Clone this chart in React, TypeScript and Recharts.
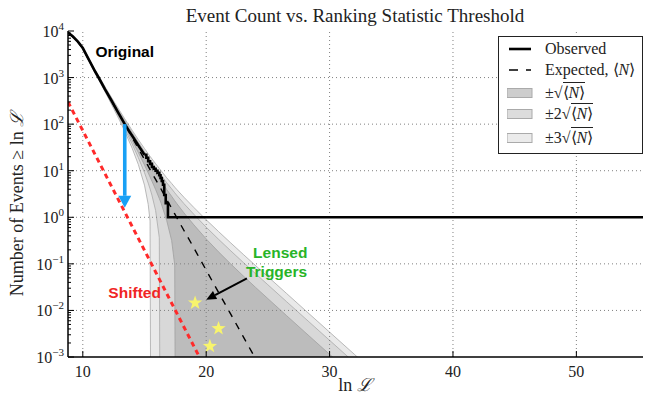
import React from "react";
import {
  ComposedChart,
  Line,
  Area,
  Scatter,
  XAxis,
  YAxis,
  ReferenceLine,
  ReferenceDot,
} from "recharts";

// axis ticks
const X_TICKS = [10, 20, 30, 40, 50];
const Y_DECADES = [1e-3, 1e-2, 1e-1, 1, 1e1, 1e2, 1e3, 1e4];
const Y_EXPONENTS = ["\u22123", "\u22122", "\u22121", "0", "1", "2", "3", "4"];
const Y_MINOR_STEPS = [2, 3, 4, 5, 6, 7, 8, 9];

// observed count >= ln L (smooth high-count part, then integer steps)
const OBS_SMOOTH_X = [8.8, 9.2, 9.6, 10.0, 10.5, 11.0, 11.3, 11.8, 12.3, 12.8, 13.4, 13.8, 14.2, 14.6, 15.0];
const OBS_SMOOTH_N = [9300, 7600, 5900, 4300, 2400, 1350, 980, 560, 330, 190, 100, 68, 47, 32, 22];
const OBS_STEP_X = [15.0, 15.15, 15.3, 15.45, 15.6, 15.75, 15.9, 16.05, 16.2, 16.3, 16.4, 16.5, 16.6, 16.72, 16.9, 55.4];
const OBS_STEP_N = [22, 19, 16, 14, 12, 11, 10, 9, 8, 7, 6, 5, 3, 2, 1, 1];

// expected <N>
const EXP_X = [8.8, 9.2, 9.6, 10.0, 10.5, 11.0, 11.5, 12.0, 12.5, 13.0, 13.4, 14.0, 14.5, 15.0, 15.3, 15.45, 15.6, 15.9, 16.2, 16.35, 16.8, 17.2, 17.45, 17.6, 18.2, 19, 20, 21, 22, 23, 24, 25, 26.5, 28, 30, 32, 34];
const EXP_N = [9200, 7500, 5850, 4250, 2380, 1340, 790, 455, 265, 155, 100, 52, 30, 17.4, 12.5, 10.6, 9.0, 6.5, 4.7, 4.0, 2.4, 1.57, 1.18, 1.0, 0.52, 0.22, 0.073, 0.0245, 0.0082, 0.00275, 0.00092, 0.00031, 6.0e-5, 1.16e-5, 1.3e-6, 1.46e-7, 1.64e-8];

// shifted background line
const SHIFT_X = [8.8, 19.45];
const SHIFT_N = [300, 0.001];

// lensed triggers
const LENSED_X = [19.1, 21.0, 20.3];
const LENSED_N = [0.0145, 0.0041, 0.0017];

const SERIF = '"Liberation Serif", "Times New Roman", serif';
const SANS = '"Liberation Sans", Arial, sans-serif';

const obsSmooth = OBS_SMOOTH_X.map((x, i) => ({ x, n: OBS_SMOOTH_N[i] }));
const obsStep = OBS_STEP_X.map((x, i) => ({ x, n: OBS_STEP_N[i] }));
const expected = EXP_X.map((x, i) => ({ x, n: EXP_N[i] }));
const shifted = SHIFT_X.map((x, i) => ({ x, n: SHIFT_N[i] }));
const lensed = LENSED_X.map((x, i) => ({ x, n: LENSED_N[i] }));

const bands = EXP_X.map((x, i) => {
  const n = EXP_N[i];
  const s = Math.sqrt(n);
  const lo = (k: number) => Math.max(n - k * s, 1e-12);
  return { x, b1: [lo(1), n + s], b2: [lo(2), n + 2 * s], b3: [lo(3), n + 3 * s] };
});

const yTicks = [
  ...Y_DECADES,
  ...Y_DECADES.slice(0, -1).flatMap((d) => Y_MINOR_STEPS.map((m) => d * m)),
].sort((a, b) => a - b);

const YTick = (props: any) => {
  const { x, y, payload } = props;
  const i = Y_DECADES.indexOf(payload.value);
  const major = i >= 0;
  return (
    <g>
      <line x1={x} x2={x + (major ? 6 : 3)} y1={y} y2={y} stroke="#000" strokeWidth={1} />
      {major && (
        <text x={x - 4} y={y + 6} textAnchor="end" fontFamily={SERIF} fontSize={16} fill="#222">
          10<tspan dy={-7} fontSize={11}>{Y_EXPONENTS[i]}</tspan>
        </text>
      )}
    </g>
  );
};

const XTick = (props: any) => {
  const { x, y, payload } = props;
  return (
    <g>
      <line x1={x} x2={x} y1={y} y2={y - 6} stroke="#000" strokeWidth={1} />
      <text x={x} y={y + 20} textAnchor="middle" fontFamily={SERIF} fontSize={16} fill="#222">
        {payload.value}
      </text>
    </g>
  );
};

const Star = (p: any) => {
  const { cx, cy } = p;
  const pts = Array.from({ length: 10 }, (_, k) => {
    const a = -Math.PI / 2 + (k * Math.PI) / 5;
    const rad = k % 2 ? 3 : 7.5;
    return `${cx + rad * Math.cos(a)},${cy + rad * Math.sin(a)}`;
  }).join(" ");
  return <polygon points={pts} fill="#f8f46c" />;
};

const arrow = (color: string, w: number, headL: number, headW: number) => (p: any) => {
  const { x1, y1, x2, y2 } = p;
  const L = Math.hypot(x2 - x1, y2 - y1) || 1;
  const ux = (x2 - x1) / L;
  const uy = (y2 - y1) / L;
  const bx = x2 - ux * headL;
  const by = y2 - uy * headL;
  const px = -uy * headW / 2;
  const py = ux * headW / 2;
  return (
    <g>
      <line x1={x1} y1={y1} x2={bx} y2={by} stroke={color} strokeWidth={w} />
      <polygon points={`${x2},${y2} ${bx + px},${by + py} ${bx - px},${by - py}`} fill={color} />
    </g>
  );
};

const note = (text: string, color: string) => (p: any) => {
  const vb = p.viewBox || {};
  return (
    <text x={vb.x} y={vb.y} textAnchor="middle" dominantBaseline="central" fontFamily={SANS} fontWeight="bold" fontSize={15.5} fill={color}>
      {text}
    </text>
  );
};

const Sqrt = ({ k }: { k: string }) => (
  <span>
    ±{k}√<span style={{ borderTop: "1px solid #222", paddingTop: 1 }}>⟨<i>N</i>⟩</span>
  </span>
);

const legendRows = [
  { kind: "line", label: <span>Observed</span> },
  { kind: "dash", label: <span>Expected, ⟨<i>N</i>⟩</span> },
  { kind: "patch", fill: "#cdcdcd", label: <Sqrt k="" /> },
  { kind: "patch", fill: "#dcdcdc", label: <Sqrt k="2" /> },
  { kind: "patch", fill: "#ebebeb", label: <Sqrt k="3" /> },
];
const legendTops = [12, 33, 56, 77, 101];

export default function App() {
  const grid = { stroke: "#808080", strokeDasharray: "1 3", strokeWidth: 1 };
  return (
    <div style={{ position: "absolute", left: 0, top: 0, width: 645, height: 399, background: "#fff" }}>
      <ComposedChart width={645} height={399} margin={{ top: 31, right: 2, bottom: 0, left: 0 }}>
        <XAxis
          type="number"
          dataKey="x"
          domain={[8.8, 55.4]}
          ticks={X_TICKS}
          interval={0}
          allowDataOverflow
          height={42}
          tickSize={0}
          tickMargin={0}
          tickLine={false}
          tick={<XTick />}
          axisLine={{ stroke: "#000", strokeWidth: 1.5 }}
        />
        <XAxis xAxisId="top" orientation="top" type="number" dataKey="x" domain={[8.8, 55.4]} allowDataOverflow height={0} tick={false} tickLine={false} axisLine={{ stroke: "#000", strokeWidth: 1.5 }} />
        <YAxis
          scale="log"
          domain={[1e-3, 1e4]}
          ticks={yTicks}
          interval={0}
          allowDataOverflow
          width={68}
          tickSize={0}
          tickMargin={0}
          tickLine={false}
          tick={<YTick />}
          axisLine={{ stroke: "#000", strokeWidth: 1.5 }}
        />
        <YAxis yAxisId="right" orientation="right" scale="log" domain={[1e-3, 1e4]} allowDataOverflow width={0} tick={false} tickLine={false} axisLine={{ stroke: "#000", strokeWidth: 1.5 }} />

        <Area data={bands} dataKey="b3" type="linear" fill="#e9e9e9" fillOpacity={1} stroke="#aaaaaa" strokeWidth={0.8} isAnimationActive={false} />
        <Area data={bands} dataKey="b2" type="linear" fill="#d8d8d8" fillOpacity={1} stroke="#aaaaaa" strokeWidth={0.8} isAnimationActive={false} />
        <Area data={bands} dataKey="b1" type="linear" fill="#bcbcbc" fillOpacity={1} stroke="#a0a0a0" strokeWidth={0.8} isAnimationActive={false} />

        {X_TICKS.map((v) => (
          <ReferenceLine key={"gx" + v} x={v} {...grid} />
        ))}
        {Y_DECADES.slice(1, -1).map((v) => (
          <ReferenceLine key={"gy" + v} y={v} {...grid} />
        ))}

        <Line data={expected} dataKey="n" type="linear" stroke="#000" strokeWidth={1.4} strokeDasharray="7 7" dot={false} isAnimationActive={false} />
        <Line data={shifted} dataKey="n" type="linear" stroke="#ff2a2a" strokeWidth={3} strokeDasharray="5 4" dot={false} isAnimationActive={false} />
        <Line data={obsSmooth} dataKey="n" type="linear" stroke="#000" strokeWidth={2.6} dot={false} isAnimationActive={false} />
        <Line data={obsStep} dataKey="n" type="stepAfter" stroke="#000" strokeWidth={2.6} dot={false} isAnimationActive={false} />

        <ReferenceLine segment={[{ x: 13.4, y: 100 }, { x: 13.4, y: 1.6 }]} shape={arrow("#18a0f5", 3.6, 12, 13)} />
        <ReferenceLine segment={[{ x: 23.3, y: 0.049 }, { x: 20.0, y: 0.017 }]} shape={arrow("#000", 2, 10, 9)} />

        <Scatter data={lensed} dataKey="n" shape={<Star />} isAnimationActive={false} />

        <ReferenceDot x={13.4} y={3550} r={0} fill="none" stroke="none" label={note("Original", "#000")} />
        <ReferenceDot x={14.2} y={0.024} r={0} fill="none" stroke="none" label={note("Shifted", "#f02525")} />
        <ReferenceDot x={26.0} y={0.172} r={0} fill="none" stroke="none" label={note("Lensed", "#28b428")} />
        <ReferenceDot x={25.7} y={0.068} r={0} fill="none" stroke="none" label={note("Triggers", "#28b428")} />
      </ComposedChart>

      <svg width={645} height={399} style={{ position: "absolute", left: 0, top: 0, pointerEvents: "none" }}>
        <text x={355} y={22} textAnchor="middle" fontFamily={SERIF} fontSize={19} fill="#222">
          Event Count vs. Ranking Statistic Threshold
        </text>
        <text x={355} y={391} textAnchor="middle" fontFamily={SERIF} fontSize={18} fill="#222">
          ln <tspan fontStyle="italic">ℒ</tspan>
        </text>
        <text transform="translate(23,204) rotate(-90)" textAnchor="middle" fontFamily={SERIF} fontSize={18} fill="#222">
          Number of Events ≥ ln <tspan fontStyle="italic">ℒ</tspan>
        </text>
      </svg>

      <div
        style={{
          position: "absolute",
          left: 498,
          top: 36,
          width: 143,
          height: 116,
          border: "1.5px solid #222",
          background: "#fff",
          fontFamily: SERIF,
          fontSize: 16,
          color: "#222",
        }}
      >
        {legendRows.map((r, i) => (
          <div key={i} style={{ position: "absolute", left: 0, top: legendTops[i] - 10, height: 20, width: 143 }}>
            <svg width={36} height={20} style={{ position: "absolute", left: 8, top: 0 }}>
              {r.kind === "line" && <line x1={2} x2={24} y1={10} y2={10} stroke="#000" strokeWidth={2.6} />}
              {r.kind === "dash" && <line x1={2} x2={24} y1={10} y2={10} stroke="#000" strokeWidth={1.4} strokeDasharray="9 8" />}
              {r.kind === "patch" && <rect x={0} y={5.5} width={25} height={9} fill={r.fill} stroke="#aaa" strokeWidth={1} />}
            </svg>
            <div style={{ position: "absolute", left: 46, top: 0, lineHeight: "20px", whiteSpace: "nowrap" }}>{r.label}</div>
          </div>
        ))}
      </div>
    </div>
  );
}
